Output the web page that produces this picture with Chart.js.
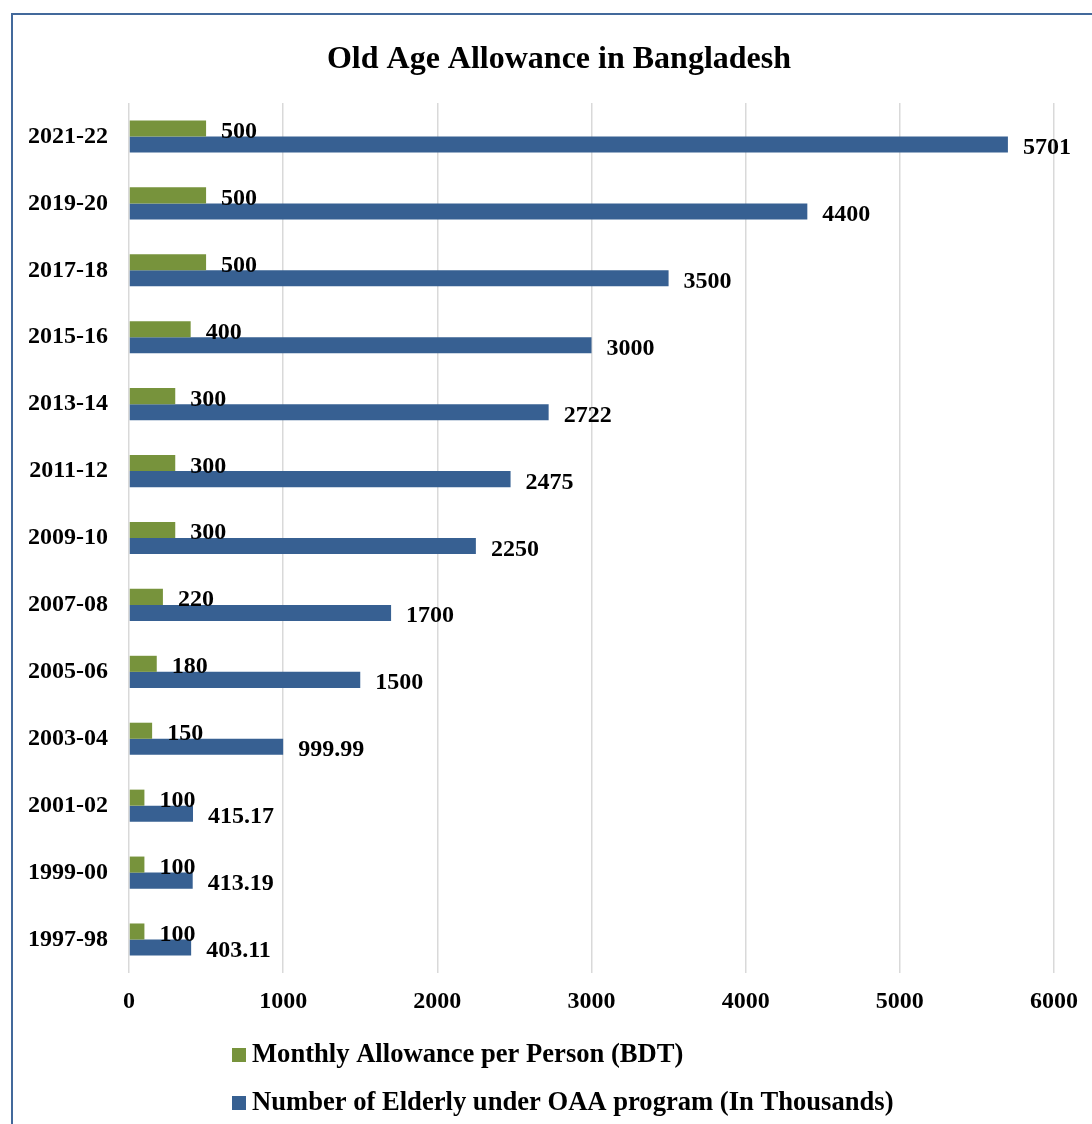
<!DOCTYPE html>
<html>
<head>
<meta charset="utf-8">
<title>Old Age Allowance in Bangladesh</title>
<script src="https://cdn.jsdelivr.net/npm/chart.js@4.4.1/dist/chart.umd.min.js"></script>
<style>
  html, body { margin: 0; padding: 0; background: #fff; overflow: hidden; }
  #frame {
    position: absolute; left: 11px; top: 13px; width: 1200px; height: 1200px;
    border-left: 2px solid #43699b; border-top: 2px solid #43699b;
    pointer-events: none;
  }
  canvas { position: absolute; left: 0; top: 0; }
</style>
</head>
<body>
<canvas id="oaaChart" width="1092" height="1124"></canvas>
<div id="frame"></div>
<script>
const years = ["2021-22", "2019-20", "2017-18", "2015-16", "2013-14", "2011-12", "2009-10",
               "2007-08", "2005-06", "2003-04", "2001-02", "1999-00", "1997-98"];
const monthlyAllowance = [500, 500, 500, 400, 300, 300, 300, 220, 180, 150, 100, 100, 100];
const elderlyThousands = [5701, 4400, 3500, 3000, 2722, 2475, 2250, 1700, 1500, 999.99, 415.17, 413.19, 403.11];
const xTicks = [0, 1000, 2000, 3000, 4000, 5000, 6000];
const chartTitle = "Old Age Allowance in Bangladesh";

const serif = "'Liberation Serif', 'Times New Roman', serif";

// value labels just past the end of each bar
const barValues = {
  id: 'barValues',
  afterDatasetsDraw(chart) {
    const ctx = chart.ctx;
    ctx.save();
    ctx.font = "bold 24px " + serif;
    ctx.fillStyle = "#000";
    ctx.textAlign = "left";
    ctx.textBaseline = "alphabetic";
    chart.data.datasets.forEach((ds, i) => {
      chart.getDatasetMeta(i).data.forEach((bar, j) => {
        ctx.fillText(String(ds.data[j]), bar.x + 15, bar.y + 9.5);
      });
    });
    ctx.restore();
  }
};

// title a bit right of centre, plus a two-row legend under the axis
const titleAndLegend = {
  id: 'titleAndLegend',
  afterDraw(chart) {
    const ctx = chart.ctx;
    ctx.save();
    ctx.fillStyle = "#000";
    ctx.textBaseline = "alphabetic";
    ctx.textAlign = "center";
    ctx.font = "bold 32px " + serif;
    ctx.fillText(chartTitle, 559, 68);

    ctx.textAlign = "left";
    ctx.font = "bold 26.6px " + serif;
    chart.data.datasets.forEach((ds, i) => {
      const cy = 1055 + i * 48;
      ctx.fillStyle = ds.backgroundColor;
      ctx.fillRect(232, cy - 7, 14, 14);
      ctx.fillStyle = "#000";
      ctx.fillText(ds.label, 252, cy + 7);
    });
    ctx.restore();
  }
};

new Chart(document.getElementById('oaaChart'), {
  type: 'bar',
  data: {
    labels: years,
    datasets: [
      {
        label: "Monthly Allowance per Person (BDT)",
        data: monthlyAllowance,
        backgroundColor: "#77933c"
      },
      {
        label: "Number of Elderly under OAA program (In Thousands)",
        data: elderlyThousands,
        backgroundColor: "#376092"
      }
    ]
  },
  options: {
    indexAxis: 'y',
    responsive: false,
    animation: false,
    categoryPercentage: 0.48,
    barPercentage: 1.0,
    layout: { padding: { left: 0, right: 38, top: 103, bottom: 0 } },
    plugins: {
      legend: { display: false },
      tooltip: { enabled: false },
      title: { display: false }
    },
    scales: {
      x: {
        min: 0,
        max: 6000,
        afterBuildTicks(scale) {
          scale.ticks = xTicks.map(v => ({ value: v }));
        },
        afterFit(scale) { scale.height = 151; },
        grid: { color: "#d9d9d9", lineWidth: 1.5, drawTicks: false },
        border: { display: false },
        ticks: {
          color: "#000",
          padding: 14,
          callback: v => String(v),
          font: { family: serif, size: 24, weight: 'bold' }
        }
      },
      y: {
        afterFit(scale) { scale.width = 129; },
        grid: { display: false, drawTicks: false },
        border: { display: false },
        ticks: {
          color: "#000",
          padding: 21,
          font: { family: serif, size: 24, weight: 'bold' }
        }
      }
    }
  },
  plugins: [barValues, titleAndLegend]
});
</script>
</body>
</html>
